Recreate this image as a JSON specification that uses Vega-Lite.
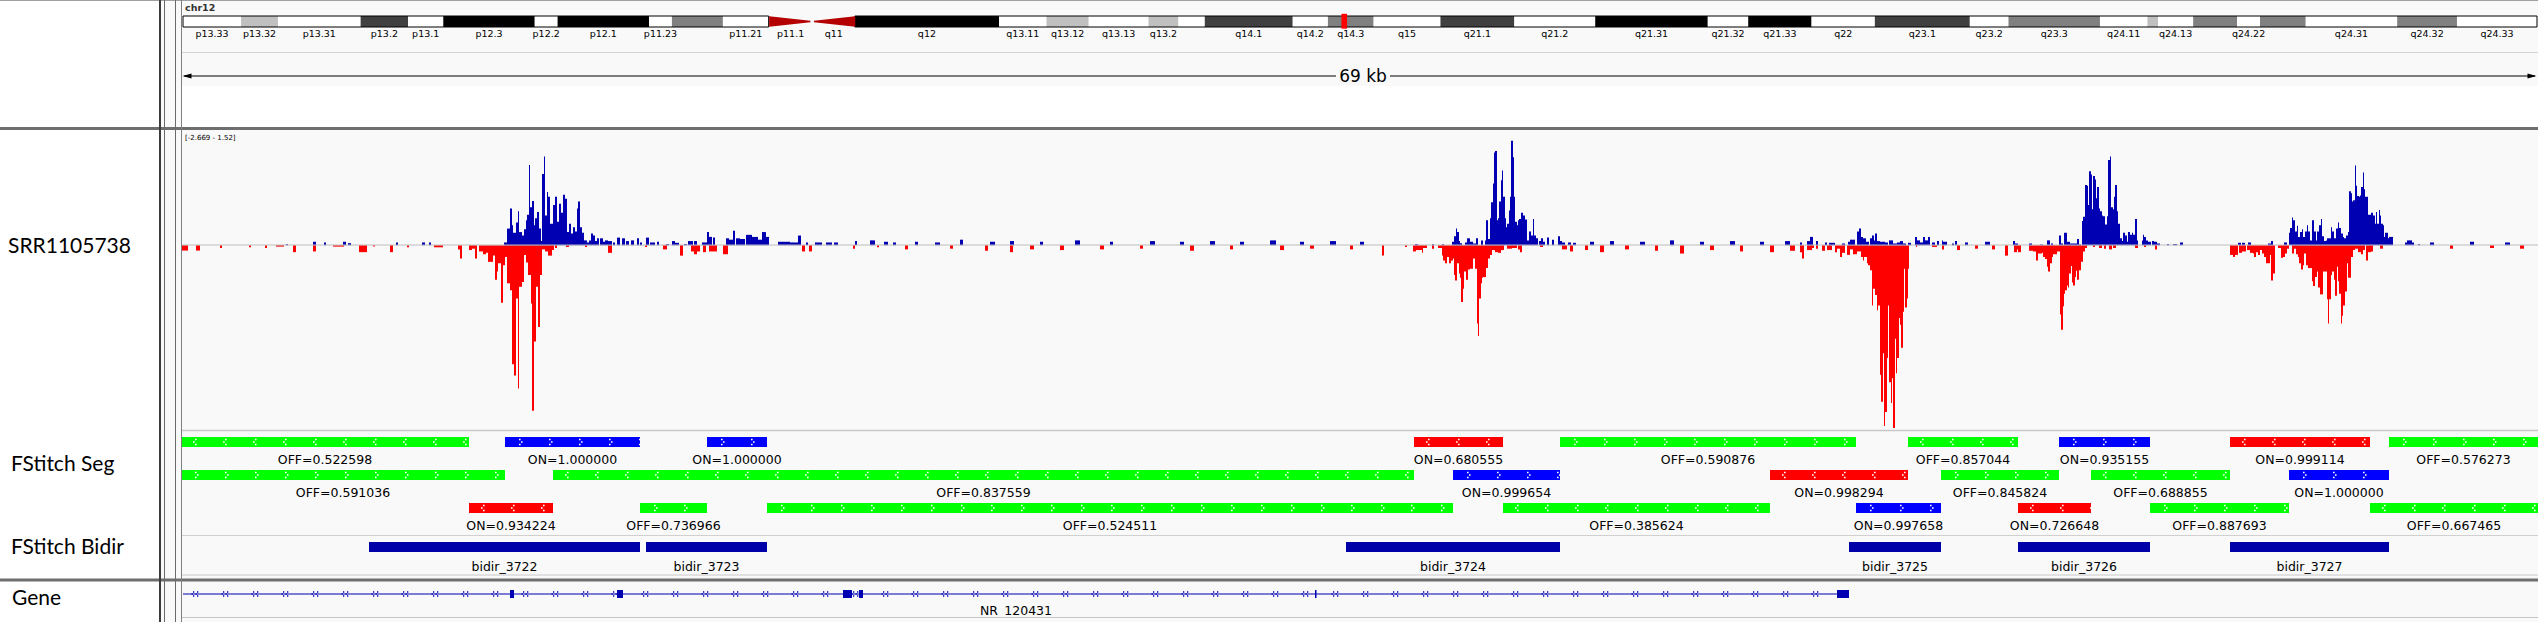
{
"$schema":"https://vega.github.io/schema/vega-lite/v6.json",
"width":2538,"height":622,"padding":0,"autosize":{"type":"none"},
"background":"#f9f9f9",
"config":{"view":{"stroke":null},"text":{"font":"DejaVu Sans"},"axis":{"disable":true}},
"data":{"values":[{}]},
"datasets":{
"bands":[
{"b":"p13.33","s":0,"e":3.3,"st":"gneg"},{"b":"p13.32","s":3.3,"e":5.4,"st":"gpos25"},{"b":"p13.31","s":5.4,"e":10.1,"st":"gneg"},{"b":"p13.2","s":10.1,"e":12.8,"st":"gpos75"},{"b":"p13.1","s":12.8,"e":14.8,"st":"gneg"},{"b":"p12.3","s":14.8,"e":20.0,"st":"gpos100"},{"b":"p12.2","s":20.0,"e":21.3,"st":"gneg"},{"b":"p12.1","s":21.3,"e":26.5,"st":"gpos100"},{"b":"p11.23","s":26.5,"e":27.8,"st":"gneg"},{"b":"p11.22","s":27.8,"e":30.7,"st":"gpos50"},{"b":"p11.21","s":30.7,"e":33.3,"st":"gneg"},{"b":"p11.1","s":33.3,"e":35.8,"st":"acen"},{"b":"q11","s":35.8,"e":38.2,"st":"acen"},{"b":"q12","s":38.2,"e":46.4,"st":"gpos100"},{"b":"q13.11","s":46.4,"e":49.1,"st":"gneg"},{"b":"q13.12","s":49.1,"e":51.5,"st":"gpos25"},{"b":"q13.13","s":51.5,"e":54.9,"st":"gneg"},{"b":"q13.2","s":54.9,"e":56.6,"st":"gpos25"},{"b":"q13.3","s":56.6,"e":58.1,"st":"gneg"},{"b":"q14.1","s":58.1,"e":63.1,"st":"gpos75"},{"b":"q14.2","s":63.1,"e":65.1,"st":"gneg"},{"b":"q14.3","s":65.1,"e":67.7,"st":"gpos50"},{"b":"q15","s":67.7,"e":71.5,"st":"gneg"},{"b":"q21.1","s":71.5,"e":75.7,"st":"gpos75"},{"b":"q21.2","s":75.7,"e":80.3,"st":"gneg"},{"b":"q21.31","s":80.3,"e":86.7,"st":"gpos100"},{"b":"q21.32","s":86.7,"e":89.0,"st":"gneg"},{"b":"q21.33","s":89.0,"e":92.6,"st":"gpos100"},{"b":"q22","s":92.6,"e":96.2,"st":"gneg"},{"b":"q23.1","s":96.2,"e":101.6,"st":"gpos75"},{"b":"q23.2","s":101.6,"e":103.8,"st":"gneg"},{"b":"q23.3","s":103.8,"e":109.0,"st":"gpos50"},{"b":"q24.11","s":109.0,"e":111.7,"st":"gneg"},{"b":"q24.12","s":111.7,"e":112.3,"st":"gpos25"},{"b":"q24.13","s":112.3,"e":114.3,"st":"gneg"},{"b":"q24.21","s":114.3,"e":116.8,"st":"gpos50"},{"b":"q24.22","s":116.8,"e":118.1,"st":"gneg"},{"b":"q24.23","s":118.1,"e":120.7,"st":"gpos50"},{"b":"q24.31","s":120.7,"e":125.9,"st":"gneg"},{"b":"q24.32","s":125.9,"e":129.3,"st":"gpos50"},{"b":"q24.33","s":129.3,"e":133.85,"st":"gneg"}],
"arms":[{"arm":"p","s":0,"e":33.3},{"arm":"q","s":38.2,"e":133.85}],
"locus":[{"s":65.87,"e":66.19}],
"seg":[
{"s":181,"e":469,"lane":1,"st":"OFF","dir":"-","label":"OFF=0.522598"},
{"s":505,"e":640,"lane":1,"st":"ON","dir":"+","label":"ON=1.000000"},
{"s":707,"e":767,"lane":1,"st":"ON","dir":"+","label":"ON=1.000000"},
{"s":1414,"e":1503,"lane":1,"st":"ON","dir":"-","label":"ON=0.680555"},
{"s":1560,"e":1856,"lane":1,"st":"OFF","dir":"+","label":"OFF=0.590876"},
{"s":1908,"e":2018,"lane":1,"st":"OFF","dir":"-","label":"OFF=0.857044"},
{"s":2059,"e":2150,"lane":1,"st":"ON","dir":"+","label":"ON=0.935155"},
{"s":2230,"e":2370,"lane":1,"st":"ON","dir":"-","label":"ON=0.999114"},
{"s":2389,"e":2538,"lane":1,"st":"OFF","dir":"+","label":"OFF=0.576273"},
{"s":181,"e":505,"lane":2,"st":"OFF","dir":"+","label":"OFF=0.591036"},
{"s":553,"e":1414,"lane":2,"st":"OFF","dir":"-","label":"OFF=0.837559"},
{"s":1453,"e":1560,"lane":2,"st":"ON","dir":"+","label":"ON=0.999654"},
{"s":1770,"e":1908,"lane":2,"st":"ON","dir":"-","label":"ON=0.998294"},
{"s":1941,"e":2059,"lane":2,"st":"OFF","dir":"+","label":"OFF=0.845824"},
{"s":2091,"e":2230,"lane":2,"st":"OFF","dir":"-","label":"OFF=0.688855"},
{"s":2289,"e":2389,"lane":2,"st":"ON","dir":"+","label":"ON=1.000000"},
{"s":469,"e":553,"lane":3,"st":"ON","dir":"-","label":"ON=0.934224"},
{"s":640,"e":707,"lane":3,"st":"OFF","dir":"+","label":"OFF=0.736966"},
{"s":767,"e":1453,"lane":3,"st":"OFF","dir":"+","label":"OFF=0.524511"},
{"s":1503,"e":1770,"lane":3,"st":"OFF","dir":"-","label":"OFF=0.385624"},
{"s":1856,"e":1941,"lane":3,"st":"ON","dir":"+","label":"ON=0.997658"},
{"s":2018,"e":2091,"lane":3,"st":"ON","dir":"-","label":"ON=0.726648"},
{"s":2150,"e":2289,"lane":3,"st":"OFF","dir":"+","label":"OFF=0.887693"},
{"s":2370,"e":2538,"lane":3,"st":"OFF","dir":"-","label":"OFF=0.667465"}],
"bidir":[
{"s":369,"e":640,"lane":1,"label":"bidir_3722"},{"s":646,"e":767,"lane":1,"label":"bidir_3723"},{"s":1346,"e":1560,"lane":1,"label":"bidir_3724"},{"s":1849,"e":1941,"lane":1,"label":"bidir_3725"},{"s":2018,"e":2150,"lane":1,"label":"bidir_3726"},{"s":2230,"e":2389,"lane":1,"label":"bidir_3727"}],
"gene":[{"s":183,"e":1849,"lane":1,"label":"NR_120431"}],
"exons":[{"s":510,"e":514,"lane":1},{"s":617,"e":623,"lane":1},{"s":843,"e":852,"lane":1},{"s":859,"e":863,"lane":1},{"s":1315,"e":1316.5,"lane":1},{"s":1837,"e":1849,"lane":1}],
"sig":[
{"s":182,"e":188,"v":-0.077},{"s":196,"e":200,"v":-0.077},{"s":220,"e":222,"v":-0.04},{"s":249,"e":251,"v":-0.03},{"s":265,"e":267,"v":-0.04},{"s":276,"e":284,"v":-0.02},{"s":293,"e":296,"v":-0.1},{"s":313,"e":316,"v":-0.09},{"s":333,"e":344,"v":-0.02},{"s":359,"e":367,"v":-0.1},{"s":373,"e":375,"v":-0.02},{"s":390,"e":393,"v":-0.1},{"s":407,"e":409,"v":-0.03},{"s":434,"e":443,"v":-0.03},
{"s":286,"e":288,"v":0.015},{"s":313,"e":316,"v":0.05},{"s":324,"e":326,"v":0.04},{"s":343,"e":346,"v":0.05},{"s":348,"e":351,"v":0.03},{"s":396,"e":398,"v":0.04},{"s":422,"e":425,"v":0.04},{"s":429,"e":431,"v":0.04},
{"s":458,"e":460,"v":-0.06},{"s":460,"e":462,"v":-0.19},{"s":469,"e":472,"v":-0.07},{"s":472,"e":475,"v":-0.05},{"s":475,"e":477,"v":-0.19},{"s":479,"e":483,"v":-0.09},{"s":483,"e":486,"v":-0.13},{"s":486,"e":488,"v":-0.11},{"s":488,"e":493,"v":-0.24},{"s":493,"e":495,"v":-0.15},{"s":495,"e":497,"v":-0.5},{"s":497,"e":498,"v":-0.38},{"s":498,"e":501,"v":-0.26},{"s":501,"e":503,"v":-0.83},{"s":503,"e":505,"v":-0.29},{"s":505,"e":507,"v":-0.17},{"s":507,"e":510,"v":-0.55},{"s":510,"e":512,"v":-0.65},{"s":512,"e":514,"v":-1.72},{"s":514,"e":516,"v":-1.88},{"s":516,"e":518,"v":-0.77},{"s":518,"e":519,"v":-2.07},{"s":519,"e":522,"v":-0.6},{"s":522,"e":524,"v":-0.53},{"s":524,"e":526,"v":-0.14},{"s":526,"e":528,"v":-0.25},{"s":528,"e":531,"v":-0.43},{"s":531,"e":532,"v":-0.84},{"s":532,"e":534,"v":-2.39},{"s":534,"e":536,"v":-1.39},{"s":536,"e":538,"v":-0.6},{"s":538,"e":540,"v":-1.18},{"s":540,"e":542,"v":-0.43},{"s":542,"e":545,"v":-0.06},{"s":545,"e":548,"v":-0.09},{"s":548,"e":552,"v":-0.15},{"s":552,"e":554,"v":-0.07},{"s":555,"e":557,"v":-0.04},{"s":566,"e":569,"v":-0.025},{"s":585,"e":587,"v":-0.025},{"s":608,"e":612,"v":-0.11},{"s":645,"e":647,"v":-0.025},{"s":663,"e":667,"v":-0.06},{"s":680,"e":683,"v":-0.15},{"s":691,"e":694,"v":-0.09},{"s":694,"e":697,"v":-0.13},{"s":697,"e":700,"v":-0.09},{"s":703,"e":706,"v":-0.1},{"s":709,"e":717,"v":-0.09},{"s":723,"e":728,"v":-0.13},
{"s":504,"e":507,"v":0.04},{"s":507,"e":510,"v":0.24},{"s":510,"e":512,"v":0.53},{"s":512,"e":513,"v":0.29},{"s":513,"e":516,"v":0.18},{"s":516,"e":518,"v":0.33},{"s":518,"e":519,"v":0.49},{"s":519,"e":522,"v":0.19},{"s":522,"e":524,"v":0.14},{"s":524,"e":526,"v":0.23},{"s":526,"e":527,"v":0.36},{"s":527,"e":529,"v":0.44},{"s":529,"e":530,"v":1.16},{"s":530,"e":532,"v":0.55},{"s":532,"e":534,"v":0.64},{"s":534,"e":535,"v":0.29},{"s":535,"e":537,"v":0.39},{"s":537,"e":539,"v":0.48},{"s":539,"e":541,"v":0.24},{"s":541,"e":542,"v":0.06},{"s":542,"e":544,"v":1.03},{"s":544,"e":545,"v":1.28},{"s":545,"e":547,"v":0.43},{"s":547,"e":548,"v":0.77},{"s":548,"e":550,"v":0.7},{"s":550,"e":553,"v":0.31},{"s":553,"e":555,"v":0.58},{"s":555,"e":557,"v":0.7},{"s":557,"e":559,"v":0.34},{"s":559,"e":561,"v":0.6},{"s":561,"e":563,"v":0.47},{"s":563,"e":565,"v":0.73},{"s":565,"e":567,"v":0.67},{"s":567,"e":569,"v":0.19},{"s":569,"e":571,"v":0.31},{"s":571,"e":573,"v":0.17},{"s":573,"e":575,"v":0.26},{"s":575,"e":577,"v":0.2},{"s":577,"e":578,"v":0.53},{"s":578,"e":580,"v":0.63},{"s":580,"e":582,"v":0.26},{"s":582,"e":584,"v":0.18},{"s":584,"e":587,"v":0.07},{"s":587,"e":589,"v":0.04},{"s":589,"e":591,"v":0.07},{"s":591,"e":593,"v":0.17},{"s":593,"e":595,"v":0.14},{"s":595,"e":597,"v":0.06},{"s":597,"e":599,"v":0.1},{"s":600,"e":603,"v":0.1},{"s":603,"e":605,"v":0.05},{"s":605,"e":608,"v":0.07},{"s":608,"e":612,"v":0.06},{"s":613,"e":615,"v":0.04},{"s":617,"e":620,"v":0.11},{"s":622,"e":625,"v":0.1},{"s":626,"e":629,"v":0.06},{"s":631,"e":634,"v":0.07},{"s":637,"e":639,"v":0.1},{"s":640,"e":642,"v":0.04},{"s":646,"e":649,"v":0.11},{"s":650,"e":655,"v":0.04},{"s":657,"e":659,"v":0.05},{"s":666,"e":669,"v":0.015},{"s":672,"e":675,"v":0.06},{"s":675,"e":679,"v":0.035},{"s":684,"e":687,"v":0.015},{"s":688,"e":693,"v":0.06},{"s":694,"e":697,"v":0.06},{"s":702,"e":707,"v":0.04},{"s":707,"e":709,"v":0.19},{"s":709,"e":712,"v":0.12},{"s":713,"e":715,"v":0.11},
{"s":726,"e":729,"v":0.1},{"s":729,"e":733,"v":0.08},{"s":733,"e":735,"v":0.21},{"s":736,"e":740,"v":0.1},{"s":740,"e":745,"v":0.09},{"s":746,"e":752,"v":0.15},{"s":752,"e":758,"v":0.12},{"s":758,"e":762,"v":0.08},{"s":762,"e":766,"v":0.19},{"s":766,"e":769,"v":0.12},{"s":778,"e":790,"v":0.05},{"s":790,"e":798,"v":0.04},{"s":798,"e":801,"v":0.14},{"s":806,"e":808,"v":0.04},{"s":815,"e":822,"v":0.04},{"s":826,"e":832,"v":0.04},{"s":834,"e":838,"v":0.04},{"s":855,"e":857,"v":0.06},{"s":870,"e":875,"v":0.07},{"s":884,"e":888,"v":0.05},{"s":893,"e":896,"v":0.04},
{"s":802,"e":805,"v":-0.09},{"s":809,"e":812,"v":-0.09},{"s":853,"e":855,"v":-0.05},{"s":877,"e":879,"v":-0.03},
{"s":915,"e":918,"v":0.05},{"s":935,"e":940,"v":0.04},{"s":960,"e":963,"v":0.08},{"s":990,"e":995,"v":0.05},{"s":1010,"e":1014,"v":0.06},{"s":1040,"e":1043,"v":0.05},{"s":1075,"e":1080,"v":0.07},{"s":1110,"e":1113,"v":0.05},{"s":1150,"e":1155,"v":0.06},{"s":1180,"e":1184,"v":0.05},{"s":1210,"e":1215,"v":0.06},{"s":1240,"e":1244,"v":0.05},{"s":1270,"e":1276,"v":0.07},{"s":1300,"e":1304,"v":0.05},{"s":1330,"e":1336,"v":0.06},{"s":1360,"e":1364,"v":0.05},
{"s":905,"e":908,"v":-0.06},{"s":950,"e":953,"v":-0.05},{"s":985,"e":988,"v":-0.08},{"s":1010,"e":1013,"v":-0.1},{"s":1030,"e":1034,"v":-0.06},{"s":1060,"e":1064,"v":-0.07},{"s":1100,"e":1104,"v":-0.06},{"s":1140,"e":1143,"v":-0.05},{"s":1190,"e":1194,"v":-0.08},{"s":1230,"e":1233,"v":-0.06},{"s":1280,"e":1284,"v":-0.07},{"s":1310,"e":1314,"v":-0.05},{"s":1350,"e":1353,"v":-0.06},
{"s":1382,"e":1384,"v":-0.15},{"s":1405,"e":1407,"v":-0.025},{"s":1413,"e":1416,"v":-0.09},{"s":1416,"e":1420,"v":-0.07},{"s":1420,"e":1422,"v":-0.07},{"s":1422,"e":1423,"v":-0.11},{"s":1423,"e":1427,"v":-0.04},{"s":1432,"e":1434,"v":-0.05},{"s":1438,"e":1442,"v":-0.04},{"s":1442,"e":1443,"v":-0.15},{"s":1443,"e":1445,"v":-0.22},{"s":1445,"e":1447,"v":-0.26},{"s":1447,"e":1449,"v":-0.17},{"s":1449,"e":1451,"v":-0.26},{"s":1451,"e":1453,"v":-0.22},{"s":1453,"e":1454,"v":-0.19},{"s":1454,"e":1455,"v":-0.43},{"s":1455,"e":1457,"v":-0.51},{"s":1457,"e":1459,"v":-0.26},{"s":1459,"e":1460,"v":-0.41},{"s":1460,"e":1461,"v":-0.47},{"s":1461,"e":1463,"v":-0.82},{"s":1463,"e":1464,"v":-0.63},{"s":1464,"e":1466,"v":-0.38},{"s":1466,"e":1468,"v":-0.5},{"s":1468,"e":1470,"v":-0.35},{"s":1470,"e":1473,"v":-0.34},{"s":1473,"e":1475,"v":-0.19},{"s":1475,"e":1477,"v":-0.34},{"s":1477,"e":1478,"v":-1.13},{"s":1478,"e":1479,"v":-1.31},{"s":1479,"e":1481,"v":-0.77},{"s":1481,"e":1482,"v":-0.55},{"s":1482,"e":1483,"v":-0.47},{"s":1483,"e":1486,"v":-0.46},{"s":1486,"e":1488,"v":-0.33},{"s":1488,"e":1490,"v":-0.19},{"s":1490,"e":1492,"v":-0.14},{"s":1492,"e":1495,"v":-0.07},{"s":1495,"e":1498,"v":-0.1},{"s":1498,"e":1501,"v":-0.11},{"s":1501,"e":1504,"v":-0.07},{"s":1507,"e":1512,"v":-0.05},{"s":1512,"e":1517,"v":-0.04},{"s":1518,"e":1520,"v":-0.06},{"s":1520,"e":1522,"v":-0.1},{"s":1540,"e":1543,"v":-0.025},{"s":1562,"e":1567,"v":-0.06},{"s":1570,"e":1573,"v":-0.09},
{"s":1415,"e":1418,"v":0.015},{"s":1432,"e":1434,"v":0.015},{"s":1442,"e":1444,"v":0.015},{"s":1452,"e":1454,"v":0.05},{"s":1454,"e":1456,"v":0.13},{"s":1456,"e":1457,"v":0.24},{"s":1457,"e":1459,"v":0.19},{"s":1459,"e":1460,"v":0.06},{"s":1460,"e":1462,"v":0.03},{"s":1465,"e":1467,"v":0.04},{"s":1467,"e":1470,"v":0.1},{"s":1470,"e":1473,"v":0.05},{"s":1473,"e":1476,"v":0.025},{"s":1476,"e":1478,"v":0.1},{"s":1481,"e":1483,"v":0.07},{"s":1485,"e":1486,"v":0.07},{"s":1486,"e":1488,"v":0.36},{"s":1488,"e":1490,"v":0.09},{"s":1490,"e":1491,"v":0.39},{"s":1491,"e":1493,"v":0.62},{"s":1493,"e":1494,"v":0.89},{"s":1494,"e":1495,"v":1.34},{"s":1495,"e":1497,"v":1.36},{"s":1497,"e":1498,"v":0.36},{"s":1498,"e":1499,"v":0.39},{"s":1499,"e":1501,"v":0.63},{"s":1501,"e":1502,"v":0.94},{"s":1502,"e":1503,"v":1.08},{"s":1503,"e":1505,"v":0.7},{"s":1505,"e":1506,"v":0.39},{"s":1506,"e":1507,"v":0.26},{"s":1507,"e":1509,"v":0.31},{"s":1509,"e":1510,"v":0.5},{"s":1510,"e":1511,"v":0.7},{"s":1511,"e":1513,"v":1.51},{"s":1513,"e":1514,"v":1.27},{"s":1514,"e":1515,"v":0.7},{"s":1515,"e":1517,"v":0.34},{"s":1517,"e":1518,"v":0.29},{"s":1518,"e":1519,"v":0.36},{"s":1519,"e":1521,"v":0.38},{"s":1521,"e":1523,"v":0.47},{"s":1523,"e":1525,"v":0.43},{"s":1525,"e":1527,"v":0.37},{"s":1527,"e":1529,"v":0.07},{"s":1529,"e":1531,"v":0.2},{"s":1531,"e":1533,"v":0.14},{"s":1533,"e":1534,"v":0.38},{"s":1534,"e":1536,"v":0.14},{"s":1536,"e":1538,"v":0.1},{"s":1539,"e":1541,"v":0.06},{"s":1541,"e":1543,"v":0.1},{"s":1543,"e":1545,"v":0.05},{"s":1547,"e":1549,"v":0.11},{"s":1552,"e":1554,"v":0.08},{"s":1558,"e":1560,"v":0.13},{"s":1560,"e":1562,"v":0.06},{"s":1562,"e":1565,"v":0.04},{"s":1568,"e":1571,"v":0.04},{"s":1573,"e":1576,"v":0.035},
{"s":1590,"e":1594,"v":0.05},{"s":1610,"e":1614,"v":0.06},{"s":1640,"e":1645,"v":0.05},{"s":1670,"e":1674,"v":0.07},{"s":1700,"e":1704,"v":0.05},{"s":1730,"e":1735,"v":0.06},{"s":1760,"e":1764,"v":0.05},{"s":1785,"e":1790,"v":0.06},
{"s":1585,"e":1588,"v":-0.07},{"s":1600,"e":1604,"v":-0.1},{"s":1625,"e":1629,"v":-0.06},{"s":1655,"e":1658,"v":-0.08},{"s":1680,"e":1684,"v":-0.12},{"s":1710,"e":1714,"v":-0.07},{"s":1740,"e":1743,"v":-0.09},{"s":1770,"e":1774,"v":-0.1},{"s":1790,"e":1795,"v":-0.08},
{"s":1800,"e":1802,"v":-0.1},{"s":1802,"e":1804,"v":-0.19},{"s":1807,"e":1812,"v":-0.07},{"s":1812,"e":1814,"v":-0.04},{"s":1816,"e":1818,"v":-0.05},{"s":1822,"e":1825,"v":-0.08},{"s":1827,"e":1832,"v":-0.07},{"s":1835,"e":1837,"v":-0.1},{"s":1837,"e":1840,"v":-0.05},{"s":1840,"e":1842,"v":-0.17},{"s":1842,"e":1845,"v":-0.11},{"s":1847,"e":1850,"v":-0.14},{"s":1850,"e":1853,"v":-0.06},{"s":1853,"e":1857,"v":-0.13},{"s":1857,"e":1861,"v":-0.09},{"s":1861,"e":1863,"v":-0.17},{"s":1863,"e":1864,"v":-0.22},{"s":1864,"e":1867,"v":-0.17},{"s":1867,"e":1868,"v":-0.26},{"s":1868,"e":1870,"v":-0.29},{"s":1870,"e":1872,"v":-0.36},{"s":1872,"e":1873,"v":-0.87},{"s":1873,"e":1875,"v":-0.63},{"s":1875,"e":1877,"v":-0.72},{"s":1877,"e":1878,"v":-0.94},{"s":1878,"e":1880,"v":-0.87},{"s":1880,"e":1881,"v":-1.87},{"s":1881,"e":1883,"v":-2.26},{"s":1883,"e":1884,"v":-1.56},{"s":1884,"e":1885,"v":-2.61},{"s":1885,"e":1887,"v":-2.41},{"s":1887,"e":1888,"v":-1.63},{"s":1888,"e":1889,"v":-0.87},{"s":1889,"e":1891,"v":-1.98},{"s":1891,"e":1892,"v":-2.28},{"s":1892,"e":1893,"v":-1.92},{"s":1893,"e":1895,"v":-2.64},{"s":1895,"e":1896,"v":-1.35},{"s":1896,"e":1897,"v":-1.85},{"s":1897,"e":1899,"v":-1.63},{"s":1899,"e":1900,"v":-1.05},{"s":1900,"e":1901,"v":-1.15},{"s":1901,"e":1903,"v":-1.48},{"s":1903,"e":1904,"v":-0.96},{"s":1904,"e":1905,"v":-0.34},{"s":1905,"e":1907,"v":-0.9},{"s":1907,"e":1908,"v":-0.77},{"s":1908,"e":1909,"v":-0.34},{"s":1916,"e":1917,"v":-0.025},{"s":1932,"e":1937,"v":-0.025},{"s":1942,"e":1944,"v":-0.06},{"s":1957,"e":1960,"v":-0.07},
{"s":1800,"e":1802,"v":0.04},{"s":1807,"e":1810,"v":0.06},{"s":1810,"e":1813,"v":0.12},{"s":1816,"e":1818,"v":0.06},{"s":1825,"e":1827,"v":0.04},{"s":1829,"e":1835,"v":0.035},{"s":1842,"e":1845,"v":0.025},{"s":1848,"e":1850,"v":0.05},{"s":1850,"e":1855,"v":0.08},{"s":1857,"e":1859,"v":0.2},{"s":1859,"e":1861,"v":0.24},{"s":1861,"e":1863,"v":0.12},{"s":1863,"e":1866,"v":0.1},{"s":1866,"e":1869,"v":0.05},{"s":1870,"e":1872,"v":0.1},{"s":1872,"e":1874,"v":0.14},{"s":1874,"e":1875,"v":0.07},{"s":1875,"e":1877,"v":0.17},{"s":1877,"e":1880,"v":0.06},{"s":1880,"e":1885,"v":0.05},{"s":1885,"e":1888,"v":0.04},{"s":1889,"e":1893,"v":0.07},{"s":1893,"e":1897,"v":0.025},{"s":1897,"e":1900,"v":0.04},{"s":1900,"e":1903,"v":0.06},{"s":1903,"e":1906,"v":0.025},{"s":1908,"e":1911,"v":0.035},{"s":1915,"e":1917,"v":0.12},{"s":1917,"e":1920,"v":0.07},{"s":1920,"e":1923,"v":0.04},{"s":1923,"e":1925,"v":0.12},{"s":1925,"e":1928,"v":0.07},{"s":1928,"e":1930,"v":0.12},{"s":1932,"e":1935,"v":0.04},{"s":1937,"e":1939,"v":0.06},{"s":1942,"e":1943,"v":0.07},{"s":1943,"e":1947,"v":0.05},{"s":1952,"e":1954,"v":0.025},{"s":1955,"e":1957,"v":0.06},
{"s":1965,"e":1968,"v":0.04},{"s":1975,"e":1978,"v":-0.05},{"s":1985,"e":1990,"v":0.05},{"s":1992,"e":1995,"v":-0.06},
{"s":2005,"e":2008,"v":-0.15},{"s":2014,"e":2017,"v":-0.1},{"s":2017,"e":2018,"v":-0.06},{"s":2018,"e":2021,"v":-0.1},{"s":2029,"e":2033,"v":-0.08},{"s":2033,"e":2036,"v":-0.09},{"s":2036,"e":2038,"v":-0.22},{"s":2038,"e":2042,"v":-0.12},{"s":2042,"e":2043,"v":-0.11},{"s":2043,"e":2045,"v":-0.17},{"s":2045,"e":2047,"v":-0.2},{"s":2047,"e":2048,"v":-0.31},{"s":2048,"e":2050,"v":-0.38},{"s":2050,"e":2052,"v":-0.26},{"s":2052,"e":2053,"v":-0.17},{"s":2053,"e":2057,"v":-0.13},{"s":2057,"e":2060,"v":-0.09},{"s":2060,"e":2061,"v":-1.0},{"s":2061,"e":2063,"v":-1.22},{"s":2063,"e":2064,"v":-0.88},{"s":2064,"e":2065,"v":-0.7},{"s":2065,"e":2067,"v":-0.65},{"s":2067,"e":2068,"v":-0.58},{"s":2068,"e":2069,"v":-0.61},{"s":2069,"e":2071,"v":-0.41},{"s":2071,"e":2072,"v":-0.3},{"s":2072,"e":2073,"v":-0.54},{"s":2073,"e":2075,"v":-0.58},{"s":2075,"e":2076,"v":-0.46},{"s":2076,"e":2077,"v":-0.37},{"s":2077,"e":2079,"v":-0.5},{"s":2079,"e":2081,"v":-0.36},{"s":2081,"e":2083,"v":-0.24},{"s":2083,"e":2085,"v":-0.09},{"s":2085,"e":2087,"v":-0.04},{"s":2093,"e":2095,"v":-0.025},{"s":2099,"e":2102,"v":-0.04},{"s":2104,"e":2106,"v":-0.05},{"s":2109,"e":2112,"v":-0.06},{"s":2113,"e":2116,"v":-0.04},{"s":2135,"e":2138,"v":-0.04},{"s":2144,"e":2146,"v":-0.025},{"s":2155,"e":2157,"v":-0.06},
{"s":2230,"e":2233,"v":-0.14},{"s":2233,"e":2235,"v":-0.17},{"s":2235,"e":2238,"v":-0.14},{"s":2239,"e":2242,"v":-0.11},{"s":2242,"e":2246,"v":-0.09},{"s":2247,"e":2250,"v":-0.07},{"s":2250,"e":2253,"v":-0.11},{"s":2253,"e":2254,"v":-0.12},{"s":2254,"e":2256,"v":-0.17},{"s":2256,"e":2258,"v":-0.1},{"s":2258,"e":2260,"v":-0.14},{"s":2260,"e":2262,"v":-0.07},{"s":2262,"e":2264,"v":-0.12},{"s":2264,"e":2266,"v":-0.17},{"s":2266,"e":2267,"v":-0.26},{"s":2267,"e":2270,"v":-0.26},{"s":2270,"e":2271,"v":-0.14},{"s":2271,"e":2273,"v":-0.51},{"s":2273,"e":2275,"v":-0.41},{"s":2278,"e":2281,"v":-0.04},{"s":2281,"e":2283,"v":-0.18},{"s":2283,"e":2285,"v":-0.17},{"s":2285,"e":2287,"v":-0.12},{"s":2287,"e":2289,"v":-0.05},{"s":2292,"e":2294,"v":-0.12},{"s":2294,"e":2296,"v":-0.05},{"s":2296,"e":2298,"v":-0.13},{"s":2298,"e":2299,"v":-0.17},{"s":2299,"e":2301,"v":-0.26},{"s":2301,"e":2303,"v":-0.35},{"s":2303,"e":2304,"v":-0.29},{"s":2304,"e":2306,"v":-0.12},{"s":2306,"e":2308,"v":-0.29},{"s":2308,"e":2312,"v":-0.33},{"s":2312,"e":2313,"v":-0.52},{"s":2313,"e":2315,"v":-0.59},{"s":2315,"e":2317,"v":-0.46},{"s":2317,"e":2318,"v":-0.38},{"s":2318,"e":2320,"v":-0.61},{"s":2320,"e":2323,"v":-0.71},{"s":2323,"e":2327,"v":-0.38},{"s":2327,"e":2328,"v":-0.78},{"s":2328,"e":2329,"v":-1.13},{"s":2329,"e":2331,"v":-0.78},{"s":2331,"e":2332,"v":-0.43},{"s":2332,"e":2334,"v":-0.38},{"s":2334,"e":2335,"v":-0.5},{"s":2335,"e":2337,"v":-0.73},{"s":2337,"e":2338,"v":-0.31},{"s":2338,"e":2339,"v":-0.52},{"s":2339,"e":2341,"v":-0.7},{"s":2341,"e":2342,"v":-1.13},{"s":2342,"e":2343,"v":-1.02},{"s":2343,"e":2345,"v":-0.87},{"s":2345,"e":2347,"v":-0.67},{"s":2347,"e":2348,"v":-0.26},{"s":2348,"e":2351,"v":-0.47},{"s":2351,"e":2353,"v":-0.17},{"s":2353,"e":2355,"v":-0.07},{"s":2355,"e":2358,"v":-0.05},{"s":2358,"e":2361,"v":-0.1},{"s":2361,"e":2363,"v":-0.13},{"s":2363,"e":2365,"v":-0.07},{"s":2366,"e":2368,"v":-0.22},{"s":2368,"e":2371,"v":-0.1},{"s":2371,"e":2373,"v":-0.09},{"s":2380,"e":2383,"v":-0.05},
{"s":2013,"e":2015,"v":0.06},{"s":2015,"e":2018,"v":0.025},{"s":2029,"e":2032,"v":0.025},{"s":2040,"e":2043,"v":0.01},{"s":2047,"e":2050,"v":0.07},{"s":2051,"e":2053,"v":0.025},{"s":2059,"e":2061,"v":0.14},{"s":2061,"e":2063,"v":0.025},{"s":2064,"e":2067,"v":0.18},{"s":2067,"e":2070,"v":0.05},{"s":2070,"e":2077,"v":0.025},{"s":2077,"e":2079,"v":0.09},{"s":2079,"e":2081,"v":0.01},{"s":2082,"e":2083,"v":0.35},{"s":2083,"e":2085,"v":0.41},{"s":2085,"e":2087,"v":0.87},{"s":2087,"e":2088,"v":0.86},{"s":2088,"e":2089,"v":0.58},{"s":2089,"e":2091,"v":1.07},{"s":2091,"e":2092,"v":1.02},{"s":2092,"e":2093,"v":0.52},{"s":2093,"e":2095,"v":1.0},{"s":2095,"e":2096,"v":0.95},{"s":2096,"e":2097,"v":0.68},{"s":2097,"e":2099,"v":0.84},{"s":2099,"e":2100,"v":0.53},{"s":2100,"e":2102,"v":0.49},{"s":2102,"e":2103,"v":0.43},{"s":2103,"e":2105,"v":0.42},{"s":2105,"e":2107,"v":0.3},{"s":2107,"e":2108,"v":0.42},{"s":2108,"e":2110,"v":1.23},{"s":2110,"e":2111,"v":1.28},{"s":2111,"e":2113,"v":0.55},{"s":2113,"e":2114,"v":0.52},{"s":2114,"e":2115,"v":0.7},{"s":2115,"e":2117,"v":0.87},{"s":2117,"e":2118,"v":0.49},{"s":2118,"e":2120,"v":0.31},{"s":2120,"e":2122,"v":0.1},{"s":2122,"e":2123,"v":0.06},{"s":2123,"e":2125,"v":0.18},{"s":2125,"e":2127,"v":0.14},{"s":2127,"e":2128,"v":0.05},{"s":2128,"e":2130,"v":0.19},{"s":2130,"e":2132,"v":0.15},{"s":2132,"e":2133,"v":0.18},{"s":2133,"e":2135,"v":0.15},{"s":2135,"e":2137,"v":0.38},{"s":2137,"e":2138,"v":0.07},{"s":2142,"e":2143,"v":0.07},{"s":2143,"e":2144,"v":0.15},{"s":2144,"e":2146,"v":0.12},{"s":2146,"e":2148,"v":0.07},{"s":2148,"e":2151,"v":0.05},{"s":2152,"e":2154,"v":0.06},{"s":2154,"e":2157,"v":0.05},{"s":2157,"e":2160,"v":0.025},{"s":2167,"e":2169,"v":0.015},{"s":2173,"e":2177,"v":0.015},{"s":2180,"e":2183,"v":0.04},
{"s":2238,"e":2241,"v":0.035},{"s":2242,"e":2245,"v":0.035},{"s":2248,"e":2251,"v":0.04},{"s":2268,"e":2271,"v":0.025},{"s":2271,"e":2273,"v":0.06},{"s":2284,"e":2287,"v":0.04},{"s":2289,"e":2290,"v":0.18},{"s":2290,"e":2292,"v":0.25},{"s":2292,"e":2293,"v":0.4},{"s":2293,"e":2295,"v":0.36},{"s":2295,"e":2297,"v":0.2},{"s":2297,"e":2298,"v":0.28},{"s":2298,"e":2300,"v":0.12},{"s":2300,"e":2302,"v":0.19},{"s":2302,"e":2303,"v":0.23},{"s":2303,"e":2305,"v":0.12},{"s":2305,"e":2307,"v":0.2},{"s":2307,"e":2308,"v":0.29},{"s":2308,"e":2310,"v":0.2},{"s":2310,"e":2312,"v":0.07},{"s":2312,"e":2314,"v":0.36},{"s":2314,"e":2316,"v":0.2},{"s":2316,"e":2317,"v":0.07},{"s":2317,"e":2319,"v":0.2},{"s":2319,"e":2321,"v":0.29},{"s":2321,"e":2322,"v":0.38},{"s":2322,"e":2324,"v":0.13},{"s":2324,"e":2326,"v":0.06},{"s":2326,"e":2327,"v":0.07},{"s":2327,"e":2331,"v":0.1},{"s":2331,"e":2332,"v":0.26},{"s":2332,"e":2334,"v":0.2},{"s":2334,"e":2336,"v":0.1},{"s":2336,"e":2338,"v":0.24},{"s":2338,"e":2339,"v":0.33},{"s":2339,"e":2341,"v":0.25},{"s":2341,"e":2343,"v":0.17},{"s":2343,"e":2344,"v":0.12},{"s":2344,"e":2346,"v":0.1},{"s":2346,"e":2348,"v":0.14},{"s":2348,"e":2349,"v":0.19},{"s":2349,"e":2351,"v":0.78},{"s":2351,"e":2352,"v":0.75},{"s":2352,"e":2353,"v":0.63},{"s":2353,"e":2355,"v":0.65},{"s":2355,"e":2356,"v":1.15},{"s":2356,"e":2357,"v":0.86},{"s":2357,"e":2359,"v":0.71},{"s":2359,"e":2360,"v":0.7},{"s":2360,"e":2361,"v":0.72},{"s":2361,"e":2363,"v":0.84},{"s":2363,"e":2364,"v":1.05},{"s":2364,"e":2365,"v":0.81},{"s":2365,"e":2368,"v":0.7},{"s":2368,"e":2371,"v":0.44},{"s":2371,"e":2373,"v":0.47},{"s":2373,"e":2375,"v":0.43},{"s":2375,"e":2376,"v":0.31},{"s":2376,"e":2377,"v":0.48},{"s":2377,"e":2379,"v":0.31},{"s":2379,"e":2380,"v":0.51},{"s":2380,"e":2381,"v":0.43},{"s":2381,"e":2383,"v":0.31},{"s":2383,"e":2384,"v":0.29},{"s":2384,"e":2385,"v":0.12},{"s":2385,"e":2388,"v":0.18},{"s":2388,"e":2389,"v":0.1},{"s":2389,"e":2393,"v":0.12},{"s":2405,"e":2407,"v":0.04},{"s":2407,"e":2412,"v":0.07},{"s":2412,"e":2414,"v":0.04},{"s":2418,"e":2420,"v":0.015},
{"s":2430,"e":2434,"v":0.04},{"s":2450,"e":2453,"v":-0.05},{"s":2470,"e":2474,"v":0.05},{"s":2490,"e":2494,"v":-0.04},{"s":2505,"e":2510,"v":0.04},{"s":2520,"e":2524,"v":-0.05}]
},
"layer":[
{"mark":{"type":"rect","fill":"#ffffff"},"encoding":{"x":{"value":0},"x2":{"value":160},"y":{"value":0},"y2":{"value":622}}},
{"mark":{"type":"rect","fill":"#ffffff"},"encoding":{"x":{"value":181},"x2":{"value":2538},"y":{"value":86},"y2":{"value":127}}},
{"data":{"name":"bands"},"transform":[{"filter":"datum.st!='acen'"}],"mark":{"type":"rect"},
 "encoding":{"x":{"field":"s","type":"quantitative","scale":{"domain":[0,133.85],"range":[183,2537],"nice":false,"zero":false},"axis":null},"x2":{"field":"e"},
 "y":{"datum":0,"type":"quantitative","scale":{"domain":[0,1],"range":[27,16],"nice":false,"zero":false},"axis":null},"y2":{"datum":1},
 "fill":{"field":"st","type":"nominal","scale":{"domain":["gneg","gpos25","gpos50","gpos75","gpos100"],"range":["#ffffff","#c0c0c0","#808080","#404040","#000000"]},"legend":null}}},
{"data":{"name":"arms"},"mark":{"type":"rect","fillOpacity":0,"stroke":"#000000","strokeWidth":1},
 "encoding":{"x":{"field":"s","type":"quantitative","scale":{"domain":[0,133.85],"range":[183,2537],"nice":false,"zero":false},"axis":null},"x2":{"field":"e"},
 "y":{"datum":0,"type":"quantitative","scale":{"domain":[0,1],"range":[27,16],"nice":false,"zero":false},"axis":null},"y2":{"datum":1}}},
{"data":{"name":"bands"},"transform":[{"filter":"datum.st=='acen'"},{"calculate":"(datum.s+datum.e)/2","as":"mid"}],
 "mark":{"type":"point","filled":true,"opacity":1,"size":1850,"color":"#b40000","strokeWidth":0},
 "encoding":{"x":{"field":"mid","type":"quantitative","scale":{"domain":[0,133.85],"range":[183,2537],"nice":false,"zero":false},"axis":null},
 "y":{"datum":0.5,"type":"quantitative","scale":{"domain":[0,1],"range":[27,16],"nice":false,"zero":false},"axis":null},
 "shape":{"condition":{"test":"datum.b=='p11.1'","value":"M-1,-0.24L0.92,-0.03L0.92,0.03L-1,0.24Z"},"value":"M1,-0.24L-0.92,-0.03L-0.92,0.03L1,0.24Z"}}},
{"data":{"name":"locus"},"mark":{"type":"rect","fill":"#ff0000"},
 "encoding":{"x":{"field":"s","type":"quantitative","scale":{"domain":[0,133.85],"range":[183,2537],"nice":false,"zero":false},"axis":null},"x2":{"field":"e"},
 "y":{"datum":-0.15,"type":"quantitative","scale":{"domain":[0,1],"range":[27,16],"nice":false,"zero":false},"axis":null},"y2":{"datum":1.2}}},
{"data":{"name":"bands"},"transform":[{"filter":"indexof(['p11.22','q13.3','q24.12','q24.21','q24.23'], datum.b) < 0"},{"calculate":"(datum.s+datum.e)/2","as":"mid"}],
 "mark":{"type":"text","fontSize":9.5,"baseline":"middle","align":"center","dy":7,"color":"#000000"},
 "encoding":{"x":{"field":"mid","type":"quantitative","scale":{"domain":[0,133.85],"range":[183,2537],"nice":false,"zero":false},"axis":null},
 "y":{"datum":0,"type":"quantitative","scale":{"domain":[0,1],"range":[27,16],"nice":false,"zero":false},"axis":null},"text":{"field":"b"}}},
{"mark":{"type":"text","text":"chr12","fontSize":9.5,"fontWeight":"bold","align":"left","baseline":"middle","color":"#333333"},"encoding":{"x":{"value":185},"y":{"value":8}}},
{"mark":{"type":"rule","color":"#d4d4d4","strokeWidth":1},"encoding":{"x":{"value":181},"x2":{"value":2538},"y":{"value":52.5}}},
{"mark":{"type":"rule","color":"#000000","strokeWidth":1},"encoding":{"x":{"value":184},"x2":{"value":2535},"y":{"value":76}}},
{"mark":{"type":"point","shape":"M-1,0L1,-0.55L1,0.55Z","size":80,"filled":true,"opacity":1,"color":"#000000","strokeWidth":0},"encoding":{"x":{"value":187},"y":{"value":76}}},
{"mark":{"type":"point","shape":"M1,0L-1,-0.55L-1,0.55Z","size":80,"filled":true,"opacity":1,"color":"#000000","strokeWidth":0},"encoding":{"x":{"value":2532},"y":{"value":76}}},
{"mark":{"type":"rect","fill":"#f9f9f9"},"encoding":{"x":{"value":1336},"x2":{"value":1390},"y":{"value":68},"y2":{"value":85}}},
{"mark":{"type":"text","text":"69 kb","fontSize":17,"align":"center","baseline":"middle","color":"#000000"},"encoding":{"x":{"value":1363},"y":{"value":77}}},
{"data":{"name":"sig"},"mark":{"type":"rect"},
 "encoding":{"x":{"field":"s","type":"quantitative","scale":{"domain":[181,2538],"range":[181,2538],"nice":false,"zero":false},"axis":null},"x2":{"field":"e"},
 "y":{"field":"v","type":"quantitative","scale":{"domain":[-2.669,1.52],"range":[430,140],"nice":false,"zero":false},"axis":null},"y2":{"datum":0},
 "fill":{"condition":{"test":"datum.v>0","value":"#0000b2"},"value":"#ff0000"}}},
{"mark":{"type":"rule","color":"#bdbdbd","strokeWidth":1},"encoding":{"x":{"value":181},"x2":{"value":2538},"y":{"value":245}}},
{"mark":{"type":"text","text":"[-2.669 - 1.52]","fontSize":7,"align":"left","baseline":"middle","color":"#000000"},"encoding":{"x":{"value":185},"y":{"value":138}}},
{"data":{"name":"seg"},"mark":{"type":"rule","strokeWidth":10},
 "encoding":{"x":{"field":"s","type":"quantitative","scale":{"domain":[181,2538],"range":[181,2538],"nice":false,"zero":false},"axis":null},"x2":{"field":"e"},
 "y":{"field":"lane","type":"quantitative","scale":{"domain":[1,3],"range":[442,508],"nice":false,"zero":false},"axis":null},
 "stroke":{"condition":[{"test":"datum.st=='OFF'","value":"#00ff00"},{"test":"datum.dir=='+'","value":"#0000ff"}],"value":"#ff0000"}}},
{"data":{"name":"seg"},"mark":{"type":"rule","strokeWidth":1.5,"color":"#ffffff","yOffset":-2.5,"strokeDash":[0,14,1.6,14.4]},
 "encoding":{"x":{"field":"s","type":"quantitative","scale":{"domain":[181,2538],"range":[181,2538],"nice":false,"zero":false},"axis":null},"x2":{"field":"e"},
 "y":{"field":"lane","type":"quantitative","scale":{"domain":[1,3],"range":[442,508],"nice":false,"zero":false},"axis":null}}},
{"data":{"name":"seg"},"mark":{"type":"rule","strokeWidth":1.5,"color":"#ffffff","yOffset":2.5,"strokeDash":[0,14,1.6,14.4]},
 "encoding":{"x":{"field":"s","type":"quantitative","scale":{"domain":[181,2538],"range":[181,2538],"nice":false,"zero":false},"axis":null},"x2":{"field":"e"},
 "y":{"field":"lane","type":"quantitative","scale":{"domain":[1,3],"range":[442,508],"nice":false,"zero":false},"axis":null}}},
{"data":{"name":"seg"},"mark":{"type":"rule","strokeWidth":1.5,"color":"#ffffff"},
 "encoding":{"x":{"field":"s","type":"quantitative","scale":{"domain":[181,2538],"range":[181,2538],"nice":false,"zero":false},"axis":null},"x2":{"field":"e"},
 "y":{"field":"lane","type":"quantitative","scale":{"domain":[1,3],"range":[442,508],"nice":false,"zero":false},"axis":null},
 "strokeDash":{"condition":{"test":"datum.dir=='+'","value":[0,16,1.6,12.4]},"value":[0,12,1.6,16.4]}}},
{"data":{"name":"seg"},"transform":[{"calculate":"(datum.s+datum.e)/2","as":"mid"}],
 "mark":{"type":"text","fontSize":12.5,"align":"center","baseline":"middle","dy":18,"color":"#000000"},
 "encoding":{"x":{"field":"mid","type":"quantitative","scale":{"domain":[181,2538],"range":[181,2538],"nice":false,"zero":false},"axis":null},
 "y":{"field":"lane","type":"quantitative","scale":{"domain":[1,3],"range":[442,508],"nice":false,"zero":false},"axis":null},"text":{"field":"label"}}},
{"data":{"name":"bidir"},"mark":{"type":"rule","strokeWidth":10,"color":"#0000a8"},
 "encoding":{"x":{"field":"s","type":"quantitative","scale":{"domain":[181,2538],"range":[181,2538],"nice":false,"zero":false},"axis":null},"x2":{"field":"e"},
 "y":{"field":"lane","type":"quantitative","scale":{"domain":[1,2],"range":[547,600],"nice":false,"zero":false},"axis":null}}},
{"data":{"name":"bidir"},"transform":[{"calculate":"(datum.s+datum.e)/2","as":"mid"}],
 "mark":{"type":"text","fontSize":12.5,"align":"center","baseline":"middle","dy":20,"color":"#000000"},
 "encoding":{"x":{"field":"mid","type":"quantitative","scale":{"domain":[181,2538],"range":[181,2538],"nice":false,"zero":false},"axis":null},
 "y":{"field":"lane","type":"quantitative","scale":{"domain":[1,2],"range":[547,600],"nice":false,"zero":false},"axis":null},"text":{"field":"label"}}},
{"data":{"name":"gene"},"mark":{"type":"rule","strokeWidth":1.2,"color":"#0000b2"},
 "encoding":{"x":{"field":"s","type":"quantitative","scale":{"domain":[181,2538],"range":[181,2538],"nice":false,"zero":false},"axis":null},"x2":{"field":"e"},
 "y":{"field":"lane","type":"quantitative","scale":{"domain":[1,2],"range":[594,650],"nice":false,"zero":false},"axis":null}}},
{"data":{"name":"gene"},"mark":{"type":"rule","strokeWidth":1.3,"color":"#0000b2","yOffset":-2,"strokeDash":[0,10,1.3,2.7,1.3,14.7]},
 "encoding":{"x":{"field":"s","type":"quantitative","scale":{"domain":[181,2538],"range":[181,2538],"nice":false,"zero":false},"axis":null},"x2":{"field":"e"},
 "y":{"field":"lane","type":"quantitative","scale":{"domain":[1,2],"range":[594,650],"nice":false,"zero":false},"axis":null}}},
{"data":{"name":"gene"},"mark":{"type":"rule","strokeWidth":1.3,"color":"#0000b2","yOffset":2,"strokeDash":[0,10,1.3,2.7,1.3,14.7]},
 "encoding":{"x":{"field":"s","type":"quantitative","scale":{"domain":[181,2538],"range":[181,2538],"nice":false,"zero":false},"axis":null},"x2":{"field":"e"},
 "y":{"field":"lane","type":"quantitative","scale":{"domain":[1,2],"range":[594,650],"nice":false,"zero":false},"axis":null}}},
{"data":{"name":"gene"},"mark":{"type":"rule","strokeWidth":1.6,"color":"#0000b2","strokeDash":[0,8.5,1.3,2.7,1.3,16.2]},
 "encoding":{"x":{"field":"s","type":"quantitative","scale":{"domain":[181,2538],"range":[181,2538],"nice":false,"zero":false},"axis":null},"x2":{"field":"e"},
 "y":{"field":"lane","type":"quantitative","scale":{"domain":[1,2],"range":[594,650],"nice":false,"zero":false},"axis":null}}},
{"data":{"name":"exons"},"mark":{"type":"rule","strokeWidth":8,"color":"#0000b2"},
 "encoding":{"x":{"field":"s","type":"quantitative","scale":{"domain":[181,2538],"range":[181,2538],"nice":false,"zero":false},"axis":null},"x2":{"field":"e"},
 "y":{"field":"lane","type":"quantitative","scale":{"domain":[1,2],"range":[594,650],"nice":false,"zero":false},"axis":null}}},
{"data":{"name":"gene"},"transform":[{"calculate":"(datum.s+datum.e)/2","as":"mid"}],
 "mark":{"type":"text","fontSize":12.5,"align":"center","baseline":"middle","dy":16.5,"color":"#000000"},
 "encoding":{"x":{"field":"mid","type":"quantitative","scale":{"domain":[181,2538],"range":[181,2538],"nice":false,"zero":false},"axis":null},
 "y":{"field":"lane","type":"quantitative","scale":{"domain":[1,2],"range":[594,650],"nice":false,"zero":false},"axis":null},"text":{"field":"label"}}},
{"mark":{"type":"text","text":"SRR1105738","font":"Lato","fontSize":21,"align":"left","baseline":"middle","color":"#000000"},"encoding":{"x":{"value":8},"y":{"value":247}}},
{"mark":{"type":"text","text":"FStitch Seg","font":"Lato","fontSize":21,"align":"left","baseline":"middle","color":"#000000"},"encoding":{"x":{"value":11},"y":{"value":465}}},
{"mark":{"type":"text","text":"FStitch Bidir","font":"Lato","fontSize":21,"align":"left","baseline":"middle","color":"#000000"},"encoding":{"x":{"value":11},"y":{"value":548}}},
{"mark":{"type":"text","text":"Gene","font":"Lato","fontSize":21,"align":"left","baseline":"middle","color":"#000000"},"encoding":{"x":{"value":12},"y":{"value":599}}},
{"mark":{"type":"rule","color":"#a0a0a0","strokeWidth":1},"encoding":{"x":{"value":0},"x2":{"value":2538},"y":{"value":0.5}}},
{"mark":{"type":"rule","color":"#6e6e6e","strokeWidth":3},"encoding":{"x":{"value":0},"x2":{"value":2538},"y":{"value":128.5}}},
{"mark":{"type":"rule","color":"#c8c8c8","strokeWidth":1.5},"encoding":{"x":{"value":181},"x2":{"value":2538},"y":{"value":430.5}}},
{"mark":{"type":"rule","color":"#d0d0d0","strokeWidth":1},"encoding":{"x":{"value":181},"x2":{"value":2538},"y":{"value":535.5}}},
{"mark":{"type":"rule","color":"#c8c8c8","strokeWidth":1},"encoding":{"x":{"value":181},"x2":{"value":2538},"y":{"value":575}}},
{"mark":{"type":"rule","color":"#6e6e6e","strokeWidth":3},"encoding":{"x":{"value":0},"x2":{"value":2538},"y":{"value":580}}},
{"mark":{"type":"rule","color":"#c8c8c8","strokeWidth":1},"encoding":{"x":{"value":181},"x2":{"value":2538},"y":{"value":617.5}}},
{"mark":{"type":"rule","color":"#3c3c3c","strokeWidth":2},"encoding":{"x":{"value":160},"y":{"value":0},"y2":{"value":622}}},
{"mark":{"type":"rule","color":"#6a6a6a","strokeWidth":1},"encoding":{"x":{"value":164.5},"y":{"value":0},"y2":{"value":622}}},
{"mark":{"type":"rule","color":"#6a6a6a","strokeWidth":1},"encoding":{"x":{"value":175.5},"y":{"value":0},"y2":{"value":622}}},
{"mark":{"type":"rule","color":"#808080","strokeWidth":1},"encoding":{"x":{"value":181.5},"y":{"value":0},"y2":{"value":622}}}
],
"resolve":{"scale":{"x":"independent","y":"independent"}}
}
